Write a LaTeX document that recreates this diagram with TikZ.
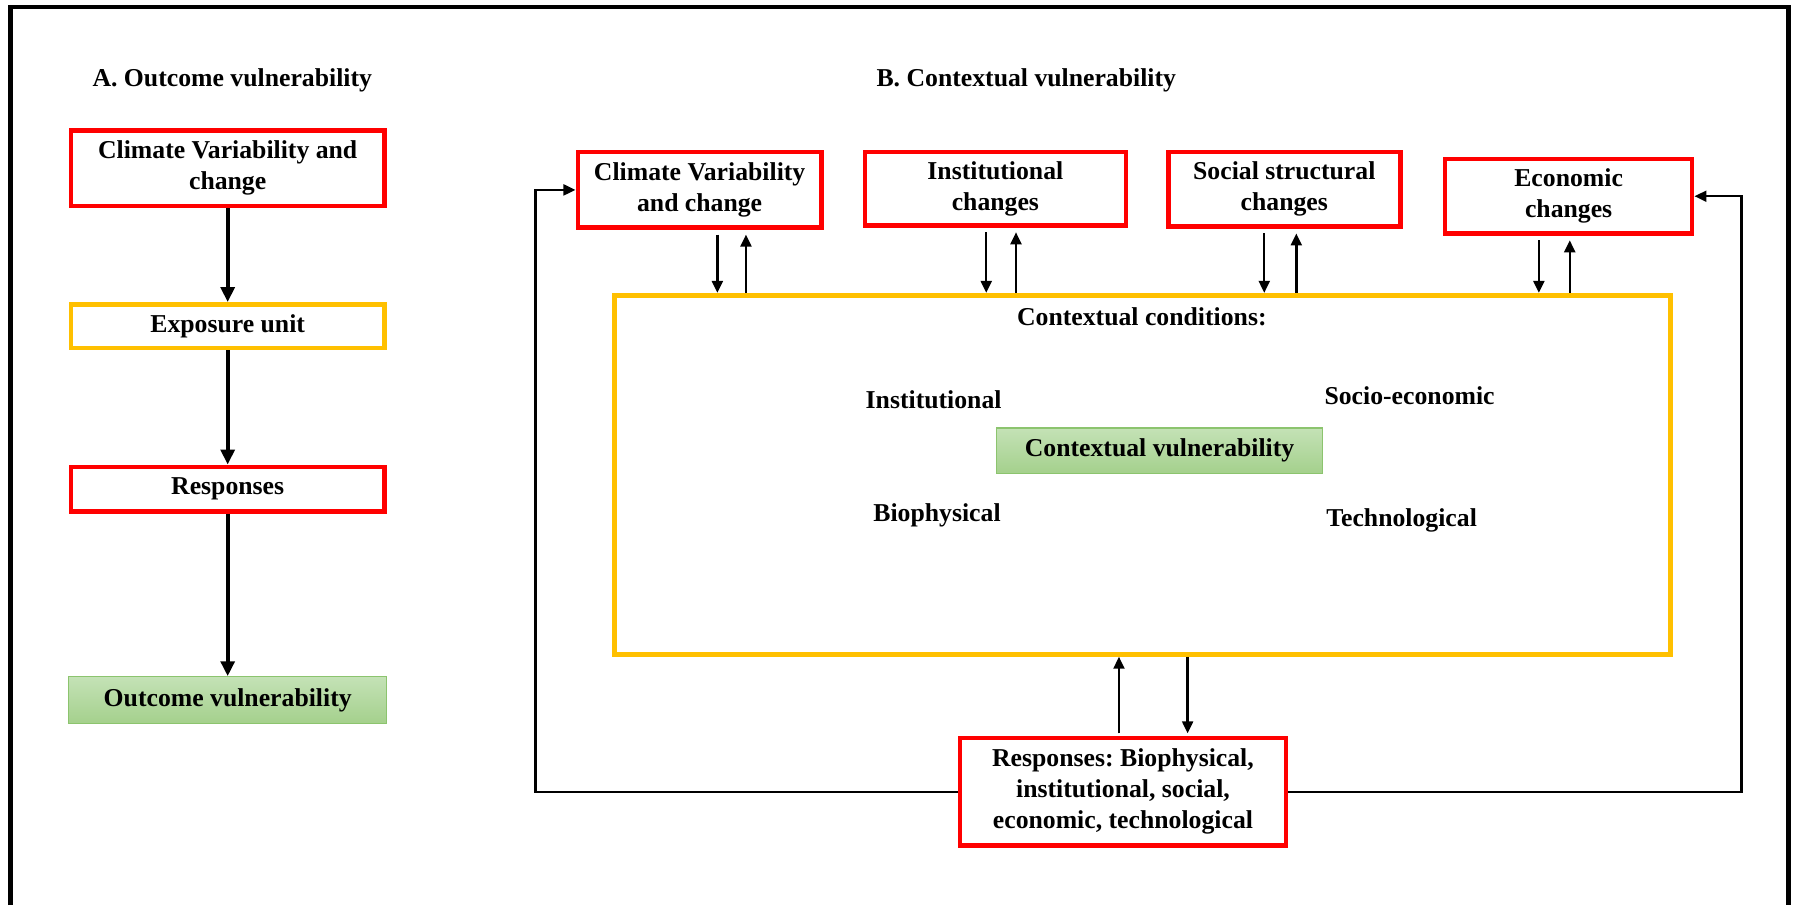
\documentclass[tikz,border=0pt]{standalone}
\usepackage{fontspec}
\setmainfont{Liberation Serif}
\usetikzlibrary{positioning, arrows.meta, calc}
\definecolor{vred}{RGB}{255,0,0}
\definecolor{vyel}{RGB}{255,192,0}
\definecolor{vgrtop}{RGB}{196,226,182}
\definecolor{vgrbot}{RGB}{164,208,140}
\definecolor{vgredge}{RGB}{140,196,110}
\frenchspacing

\begin{document}
\begin{tikzpicture}[x=0.02cm, y=-0.02cm,
    lbl/.style={font=\bfseries\fontsize{12.8}{15.4}\selectfont},
    box/.style={lbl, align=center, inner sep=0pt, line width=2.3pt, fill=white},
    redbox/.style={box, draw=vred},
    yelbox/.style={box, draw=vyel},
    grbox/.style={box, line width=0.6pt, draw=vgredge, top color=vgrtop, bottom color=vgrbot},
    bigarr/.style={line width=2pt, -{Triangle[length=0.26cm, width=0.24cm]}},
    arr/.style={line width=1.2pt, -{Triangle[length=0.21cm, width=0.19cm]}},
    fb/.style={line width=1.2pt, -{Triangle[length=0.21cm, width=0.19cm]}}]
  \useasboundingbox (0,0) rectangle (1568,791);
  % frame
  \draw[line width=2.3pt] (9,791) -- (9,6) -- (1563,6) -- (1563,791);

  % A. outcome vulnerability
  \node[lbl] (titA) at (203,70) {A. Outcome vulnerability};
  \node[redbox, minimum width=5.48cm, minimum height=1.32cm] (climA) at (199,147)
    {Climate Variability and\\change};
  \node[yelbox, minimum width=5.48cm, minimum height=0.76cm] (expo) at (199,285)
    {Exposure unit};
  \node[redbox, minimum width=5.48cm, minimum height=0.78cm] (respA) at (199,427.5)
    {Responses};
  \node[grbox, minimum width=5.56cm, minimum height=0.82cm] (outA) at (199,612)
    {Outcome vulnerability};
  \draw[bigarr] (climA) -- (expo);
  \draw[bigarr] (expo) -- (respA);
  \draw[bigarr] (respA) -- (outA);

  % B. contextual vulnerability
  \node[lbl] (titB) at (897,70) {B. Contextual vulnerability};
  \node[redbox, minimum width=4.26cm, minimum height=1.32cm] (climB) at (611.5,166)
    {Climate Variability\\and change};
  \node[redbox, minimum width=4.56cm, minimum height=1.28cm] (instB) at (870,165)
    {Institutional\\changes};
  \node[redbox, minimum width=4.06cm, minimum height=1.30cm] (socB) at (1122.5,165.5)
    {Social structural\\changes};
  \node[redbox, minimum width=4.32cm, minimum height=1.30cm] (econB) at (1371,171.5)
    {Economic\\changes};
  \node[yelbox, fill=none, minimum width=18.46cm, minimum height=6.28cm] (ctx) at (998.5,415) {};
  \node[lbl] (ccond) at (998,277) {Contextual conditions:};
  \node[lbl] (inst) at (816,349) {Institutional};
  \node[lbl] (soec) at (1232,346) {Socio-economic};
  \node[lbl] (bioph) at (819,450) {Biophysical};
  \node[lbl] (tech) at (1225,455) {Technological};
  \node[grbox, minimum width=5.70cm, minimum height=0.80cm] (cv) at (1013.5,394)
    {Contextual vulnerability};
  \node[redbox, minimum width=5.70cm, minimum height=1.88cm] (respB) at (981.5,692)
    {Responses: Biophysical,\\institutional, social,\\economic, technological};

  % two-way links, top row
  \foreach \b/\dn/\up in {climB/15.5/40.5, instB/-8/18, socB/-17.5/10.5, econB/-26/1}{
    \coordinate (d) at ($(\b.south)+(\dn,4)$);
    \coordinate (u) at ($(\b.south)+(\up,4)$);
    \draw[arr] (d) -- (d |- ctx.north);
    \draw[arr] (u |- ctx.north) -- (u);
  }
  % two-way links, responses
  \coordinate (bu) at ($(respB.north)+(-3.5,-2)$);
  \coordinate (bd) at ($(respB.north)+(56.5,-2)$);
  \draw[arr] (bu) -- (bu |- ctx.south);
  \draw[arr] (bd |- ctx.south) -- (bd);

  % feedback loops
  \draw[fb] (respB.west) -- ++(-369,0) |- (climB.west);
  \draw[fb] (respB.east) -- ++(396,0) |- (econB.east);
\end{tikzpicture}
\end{document}
